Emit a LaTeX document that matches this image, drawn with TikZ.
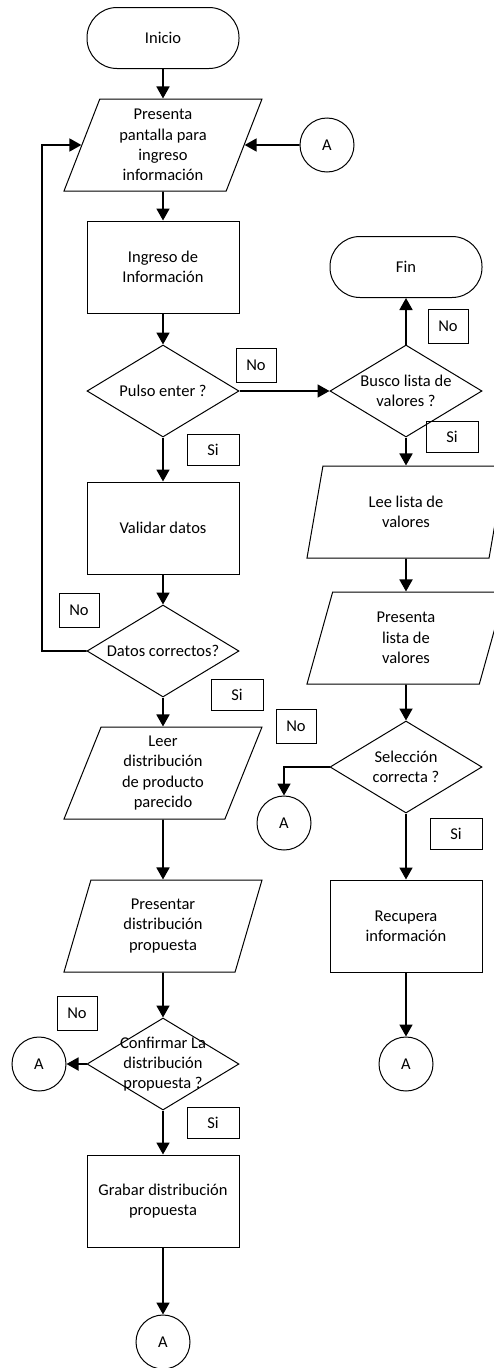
\documentclass[tikz,border=0pt]{standalone}
\usepackage{fontspec}
\setmainfont{Carlito}
\usetikzlibrary{arrows.meta, shapes.geometric}

\tikzset{
  base/.style={draw, line width=1pt, font=\fontsize{16.5}{20.3}\selectfont, align=center, inner sep=0pt},
  term/.style={base, rectangle, rounded corners=30pt, minimum width=152pt, minimum height=61pt},
  proc/.style={base, rectangle, minimum width=152pt, minimum height=92pt},
  io/.style={base, trapezium, trapezium left angle=63.43, trapezium right angle=116.57,
    trapezium stretches body, minimum width=198pt, minimum height=92pt},
  decision/.style={base, diamond, minimum width=152pt, minimum height=92pt},
  dtext/.style={font=\fontsize{16.5}{20.3}\selectfont, align=center, inner sep=0pt},
  conn/.style={base, circle, minimum size=54pt},
  notag/.style={draw, line width=0.8pt, font=\fontsize{16.5}{20.3}\selectfont, minimum width=40pt, minimum height=34pt, inner sep=0pt},
  sitag/.style={draw, line width=0.8pt, font=\fontsize{16.5}{20.3}\selectfont, minimum width=52pt, minimum height=31pt, inner sep=0pt},
  flow/.style={-{Triangle[length=12pt,width=13pt]}, line width=1.8pt},
}

\begin{document}
\begin{tikzpicture}[x=1pt, y=-1pt]
  \useasboundingbox (0,0) rectangle (494,1368);

  % --- left column ---
  \node[term] (ini) at (163,38) {Inicio};
  \node[io] (p1) at (163,145) {Presenta\\pantalla para\\ingreso\\información};
  \node[conn] (cA1) at (327,145) {A};
  \node[proc] (b1) at (163,267) {Ingreso de\\Información};
  \node[decision] (d1) at (163,391) {};
  \node[dtext] (d1t) at (d1) {Pulso enter ?};
  \node[proc] (b2) at (163,528) {Validar datos};
  \node[decision] (d3) at (163,651) {};
  \node[dtext] (d3t) at (d3) {Datos correctos?};
  \node[io] (p5) at (163,773) {Leer\\distribución\\de producto\\parecido};
  \node[io] (p6) at (163,926) {Presentar\\distribución\\propuesta};
  \node[decision] (d5) at (163,1064) {};
  \node[dtext] (d5t) at (d5) {Confirmar La\\distribución\\propuesta ?};
  \node[conn] (cA4) at (39,1064) {A};
  \node[proc] (b5) at (163,1201) {Grabar distribución\\propuesta};
  \node[conn] (cA5) at (163,1342) {A};
  \coordinate (loop) at (42,145);

  % --- right column ---
  \node[term] (fin) at (406,267) {Fin};
  \node[decision] (d2) at (406,391) {};
  \node[dtext] (d2t) at (d2) {Busco lista de\\valores ?};
  \node[io] (p3) at (406,512) {Lee lista de\\valores};
  \node[io] (p4) at (406,638) {Presenta\\lista de\\valores};
  \node[decision] (d4) at (406,767) {};
  \node[dtext] (d4t) at (d4) {Selección\\correcta ?};
  \node[conn] (cA2) at (284,823) {A};
  \node[proc] (b4) at (406,926) {Recupera\\información};
  \node[conn] (cA3) at (406,1064) {A};

  % --- Si / No tags ---
  \node[notag] (n1) at (256,365) {No};
  \node[notag] (n2) at (448,326) {No};
  \node[sitag] (s2) at (452,437) {Si};
  \node[sitag] (s1) at (213,450) {Si};
  \node[notag] (n3) at (79,610) {No};
  \node[sitag] (s3) at (237,695) {Si};
  \node[notag] (n4) at (296,726) {No};
  \node[sitag] (s4) at (456,834) {Si};
  \node[notag] (n5) at (77,1013) {No};
  \node[sitag] (s5) at (213,1123) {Si};

  % --- connectors ---
  \draw[flow] (ini) -- (p1);
  \draw[flow] (cA1) -- (p1.east);
  \draw[flow] (p1) -- (b1);
  \draw[flow] (b1) -- (d1);
  \draw[flow] (d1.east) -- (d2.west);
  \draw[flow] (d2) -- (fin);
  \draw[flow] (d2) -- (p3);
  \draw[flow] (p3) -- (p4);
  \draw[flow] (p4) -- (d4);
  \draw[flow] (d4.west) -| (cA2);
  \draw[flow] (d4) -- (b4);
  \draw[flow] (b4) -- (cA3);
  \draw[flow] (d1) -- (b2);
  \draw[flow] (b2) -- (d3);
  \draw[flow] (d3.west) -| (loop) -- (p1.west);
  \draw[flow] (d3) -- (p5);
  \draw[flow] (p5) -- (p6);
  \draw[flow] (p6) -- (d5);
  \draw[flow] (d5.west) -- (cA4);
  \draw[flow] (d5) -- (b5);
  \draw[flow] (b5) -- (cA5);
\end{tikzpicture}
\end{document}
